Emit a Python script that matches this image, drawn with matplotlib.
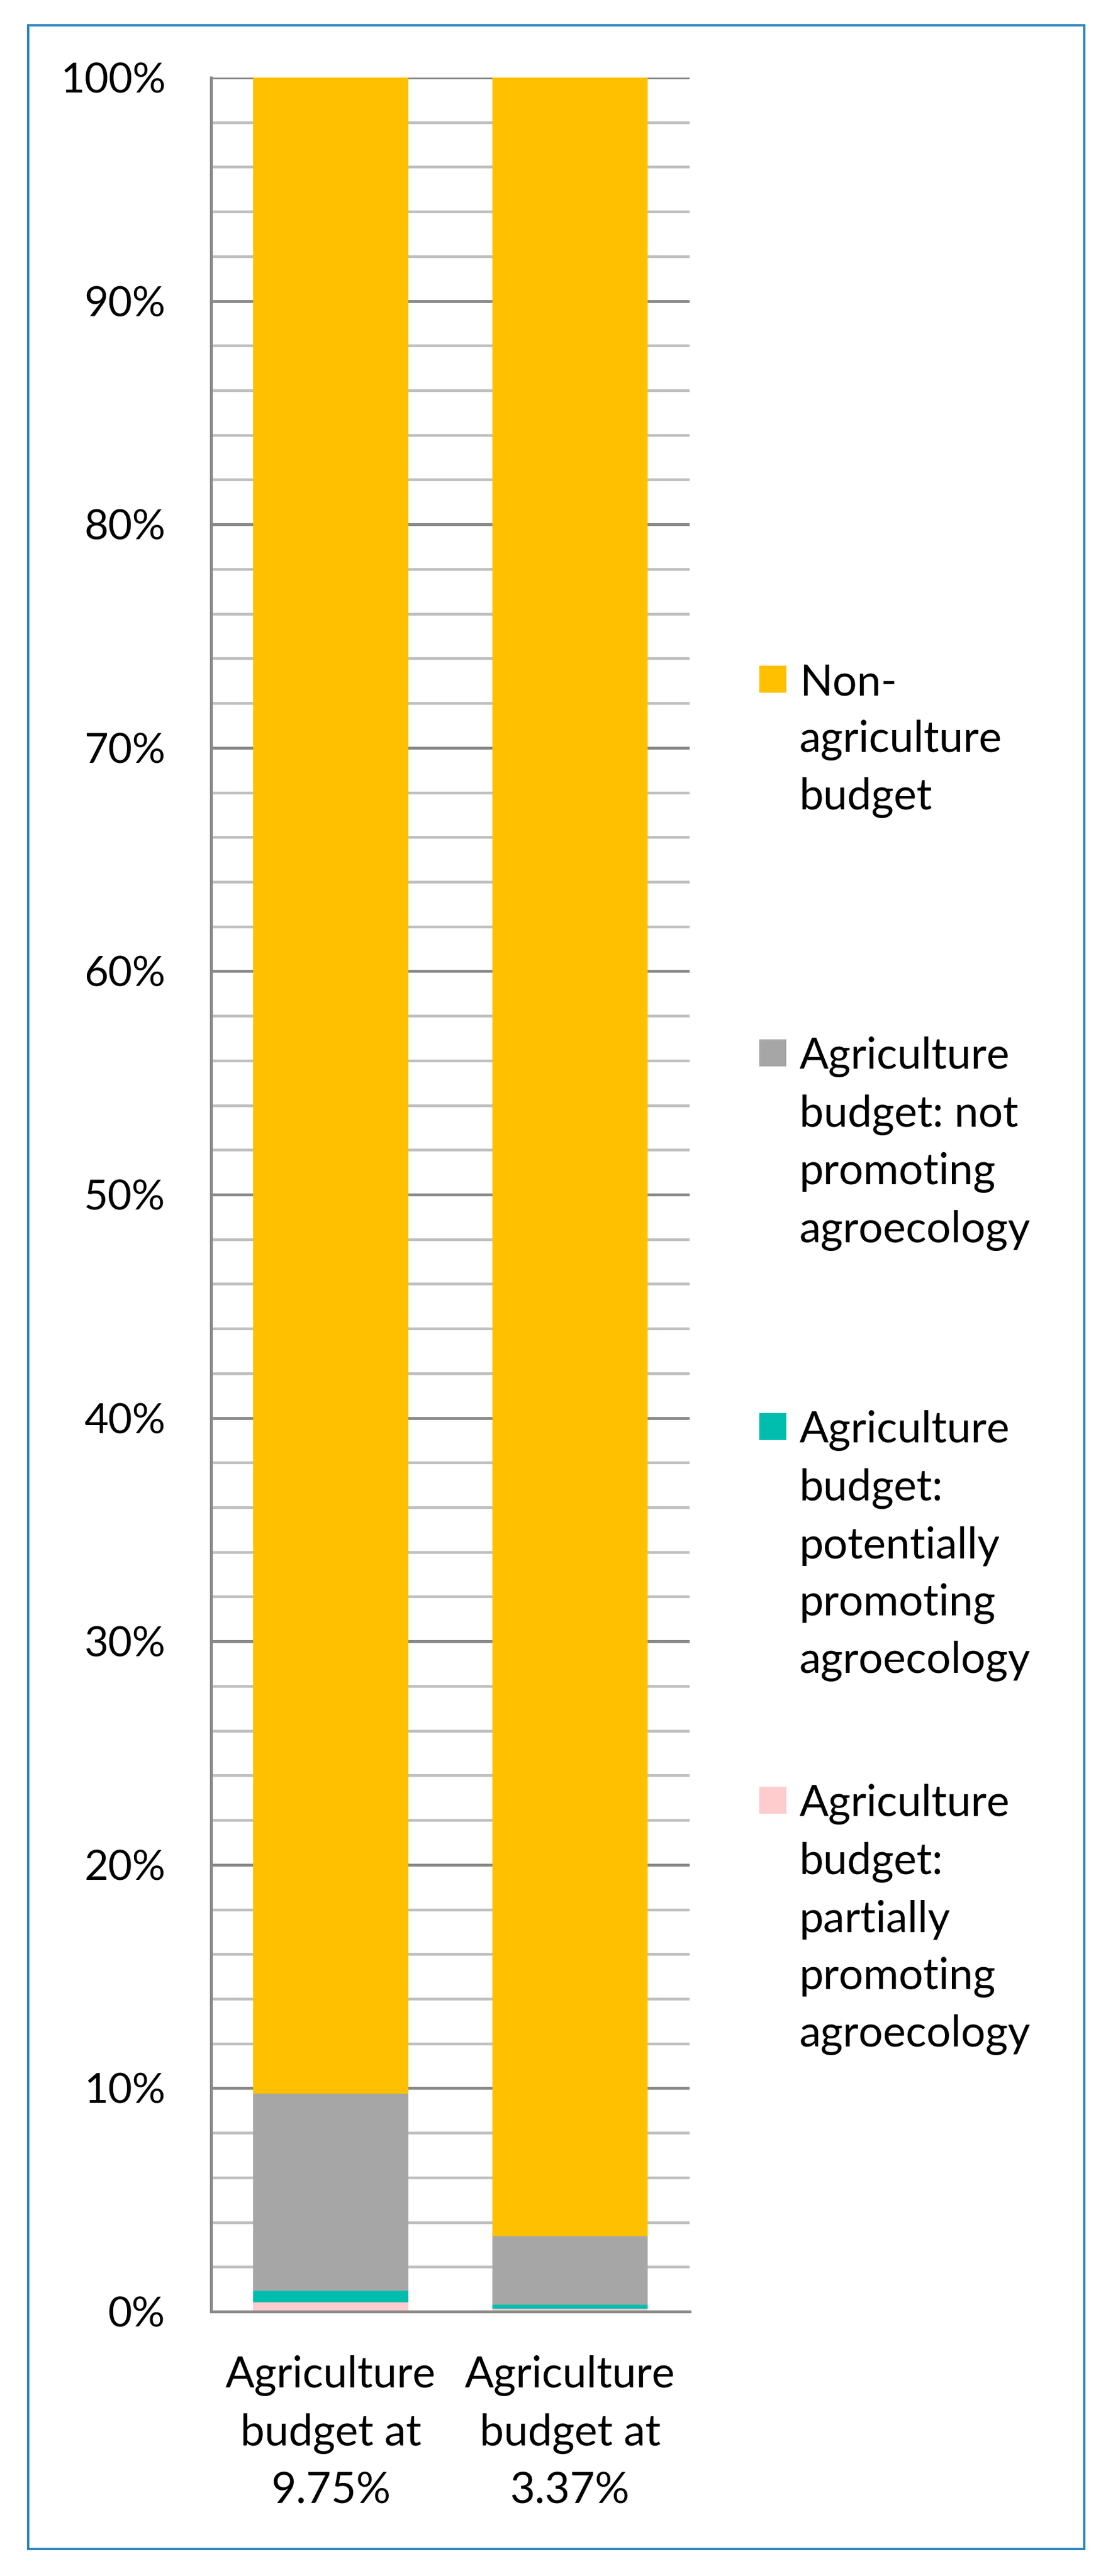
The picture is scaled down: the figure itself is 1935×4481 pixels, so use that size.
import matplotlib
matplotlib.use("Agg")
import matplotlib.pyplot as plt
from matplotlib.patches import Rectangle

# data (percent of total budget)
categories = ["Agriculture\nbudget at\n9.75%", "Agriculture\nbudget at\n3.37%"]
partially_promoting = [0.41, 0.13]
potentially_promoting = [0.52, 0.18]
not_promoting = [8.82, 3.06]
non_agriculture = [90.25, 96.63]

series_labels = ["Non-\nagriculture\nbudget",
                 "Agriculture\nbudget: not\npromoting\nagroecology",
                 "Agriculture\nbudget:\npotentially\npromoting\nagroecology",
                 "Agriculture\nbudget:\npartially\npromoting\nagroecology"]
series_colors = ["#FFC000", "#A6A6A6", "#00BDAE", "#FFCCCE"]

yticks = list(range(0, 101, 10))
ytick_labels = [str(v) + "%" for v in yticks]

W, H = 1935, 4481
plt.rcParams['font.family'] = ['Lato', 'DejaVu Sans']
fig = plt.figure(figsize=(W / 100, H / 100), dpi=100)

# axes placed in pixel units of the reference
left, right, top, bottom = 367, 1199, 135, 4021
ax = fig.add_axes([left / W, 1 - bottom / H, (right - left) / W, (bottom - top) / H])

x = list(range(len(categories)))
bw = 0.65
base = [0, 0]
stack = [partially_promoting, potentially_promoting, not_promoting, non_agriculture]
stack_colors = series_colors[::-1]
for vals, col in zip(stack, stack_colors):
    ax.bar(x, vals, bw, bottom=base, color=col, linewidth=0, zorder=2)
    base = [b + v for b, v in zip(base, vals)]

ax.set_xlim(-0.5, 1.5)
ax.set_ylim(0, 100)
ax.set_yticks(yticks)
ax.set_yticklabels(ytick_labels)
ax.set_yticks(range(0, 101, 2), minor=True)
ax.set_xticks(x)
ax.set_xticklabels(categories, linespacing=1.53)

ax.set_axisbelow(True)
ax.yaxis.grid(True, which='minor', color='#BFBFBF', linewidth=3.4)
ax.yaxis.grid(True, which='major', color='#898989', linewidth=3.6)

for s in ['top', 'right']:
    ax.spines[s].set_visible(False)
for s in ['left', 'bottom']:
    ax.spines[s].set_color('#898989')
    ax.spines[s].set_linewidth(3.6)

ax.tick_params(axis='y', which='both', length=0, pad=57, labelsize=52)
ax.tick_params(axis='x', which='both', length=0, pad=55, labelsize=54)

# legend drawn like the Excel one: entries evenly spaced, square beside first line
for i, (lab, col) in enumerate(zip(series_labels, series_colors)):
    cy = 1182 + 650 * i
    fig.patches.append(Rectangle((1320 / W, 1 - (cy + 23) / H), 47 / W, 47 / H,
                                 transform=fig.transFigure, facecolor=col,
                                 edgecolor='none'))
    fig.text(1390 / W, 1 - (cy - 29) / H, lab, fontsize=54, ha='left',
             va='top', linespacing=1.53)

# blue frame around the whole chart
fig.patches.append(Rectangle((49 / W, 1 - 4434 / H), (1885 - 49) / W, (4434 - 44) / H,
                             transform=fig.transFigure, fill=False,
                             edgecolor='#2A84C2', linewidth=3))

fig.savefig("out.png", dpi=100, facecolor='white')
